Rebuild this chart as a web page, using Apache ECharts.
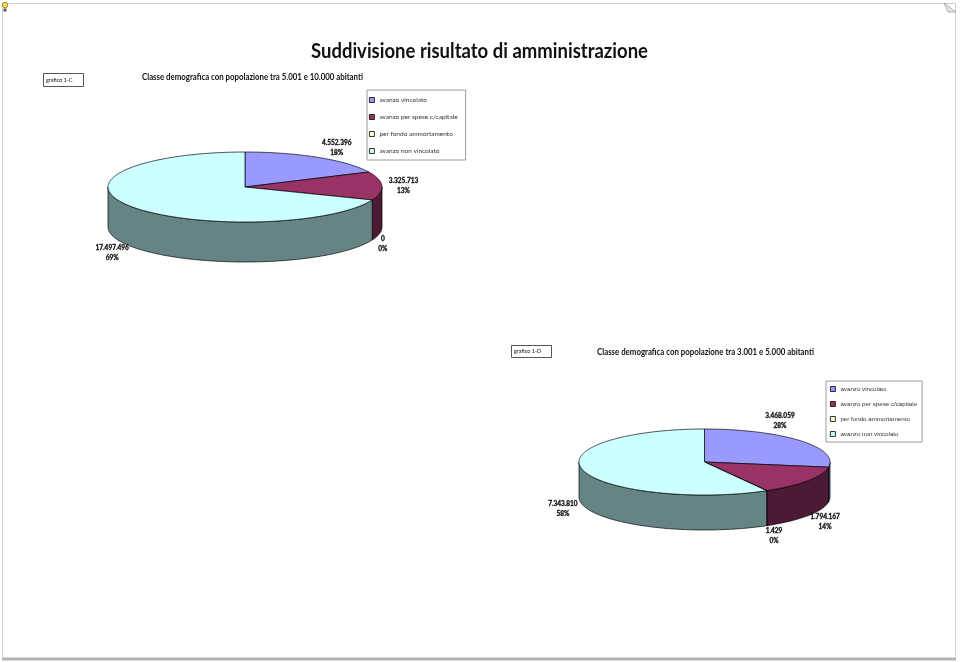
<!DOCTYPE html>
<html><head><meta charset="utf-8">
<script src="https://cdn.jsdelivr.net/npm/echarts@6/dist/echarts.min.js"></script>
<style>html,body{margin:0;padding:0;background:#fff}#c{width:960px;height:662px}</style>
</head><body><div id="c"></div>
<script>
// ---- data ----
const categories = ['avanzo vincolato', 'avanzo per spese c/capitale', 'per fondo ammortamento', 'avanzo non vincolato'];
const values1C = [4552396, 3325713, 0, 17497496];
const values1D = [3468059, 1794167, 1429, 7343810];
const mainTitle = 'Suddivisione risultato di amministrazione';
const subtitle1C = 'Classe demografica con popolazione tra 5.001 e 10.000 abitanti';
const subtitle1D = 'Classe demografica con popolazione tra 3.001 e 5.000 abitanti';
const tag1C = 'grafico 1-C';
const tag1D = 'grafico 1-D';

// ---- styles / layout ----
const topColors = ['#9999FF', '#993366', '#FFFFCC', '#CCFFFF'];
const sideColors = ['#4D4D80', '#4D1A33', '#808066', '#668484'];
const pie1 = {cx: 245, cy: 187, rx: 137, ry: 35, depth: 40, labelFont: 'bold 6.5px Lato', nudge: [[7, 0], [0, 0], [0, 0], [0, 0]]};
const pie2 = {cx: 704.5, cy: 462, rx: 125.5, ry: 33, depth: 35, labelFont: 'bold 6.5px Lato', nudge: [[-36, -12], [0, 0], [0, 0], [0, 0]]};

function fmt(v) { return String(v).replace(/\B(?=(\d{3})+(?!\d))/g, '.'); }
const mctx = document.createElement('canvas').getContext('2d');
function textW(t, font) { mctx.font = font; return mctx.measureText(t).width; }

function pie3d(values, L) {
  const total = values.reduce((a, b) => a + b, 0);
  const cum = [0];
  values.forEach(v => cum.push(cum[cum.length - 1] + v));
  return {
    type: 'custom', coordinateSystem: 'none', silent: true,
    data: values.map((v, i) => [i, v]),
    renderItem(params, api) {
      const i = api.value(0), v = api.value(1);
      const a0 = cum[i] / total * 2 * Math.PI, a1 = cum[i + 1] / total * 2 * Math.PI;
      const pt = (t, dy) => [L.cx + L.rx * Math.sin(t), L.cy - L.ry * Math.cos(t) + (dy || 0)];
      const children = [];
      if (v > 0) {
        const n = Math.max(2, Math.ceil((a1 - a0) / 0.01));
        const pts = [[L.cx, L.cy]];
        for (let k = 0; k <= n; k++) pts.push(pt(a0 + (a1 - a0) * k / n));
        children.push({type: 'polygon', z2: 10, shape: {points: pts},
          style: {fill: topColors[i], stroke: '#000', lineWidth: 0.7}});
        const s0 = Math.max(a0, Math.PI / 2), s1 = Math.min(a1, 1.5 * Math.PI);
        if (s1 > s0) {
          const m = Math.max(2, Math.ceil((s1 - s0) / 0.01));
          const up = [], dn = [];
          for (let k = 0; k <= m; k++) { const t = s0 + (s1 - s0) * k / m; up.push(pt(t)); dn.push(pt(t, L.depth)); }
          children.push({type: 'polygon', z2: 1, shape: {points: up.concat(dn.reverse())},
            style: {fill: sideColors[i], stroke: '#000', lineWidth: 0.7}});
        }
      }
      const mid = (a0 + a1) / 2, s = Math.sin(mid), c = Math.cos(mid);
      const l1 = fmt(v), l2 = Math.round(v / total * 100) + '%';
      const w = Math.max(textW(l1, L.labelFont), textW(l2, L.labelFont));
      const h = 20;
      const ax = L.cx + L.rx * 1.05 * s, ay = L.cy - L.ry * 1.05 * c + (c < 0 ? L.depth : 0);
      const nx = L.nudge[i];
      children.push({type: 'text', z2: 20, x: ax + w / 2 * s + nx[0], y: ay - h / 2 * c + nx[1],
        style: {text: l1 + '\n' + l2, font: L.labelFont, fill: '#111', stroke: '#111', lineWidth: 0.3,
          align: 'center', verticalAlign: 'middle', lineHeight: 10}});
      return {type: 'group', children};
    }
  };
}

function fitText(text, font, x, y, width, align) {
  const sx = width / textW(text, font);
  return {type: 'text', x, y, scaleX: sx, z: 10,
    style: {text, font, fill: '#111', align: align || 'left', verticalAlign: 'middle'}};
}

const legendSeries = categories.map((name, i) => ({
  type: 'custom', name, coordinateSystem: 'none', data: [], renderItem: () => null,
  itemStyle: {color: topColors[i]}
}));

const chart = echarts.init(document.getElementById('c'), null, {renderer: 'canvas'});
chart.setOption({
  animation: false,
  backgroundColor: '#fff',
  legend: [
    {data: categories, orient: 'vertical', left: 367, top: 90, icon: 'rect', itemWidth: 5, itemHeight: 5,
     itemGap: 9, padding: [6, 8, 5, 2], borderColor: '#9a9a9a', borderWidth: 1, selectedMode: false,
     itemStyle: {borderColor: '#000', borderWidth: 0.8},
     textStyle: {fontFamily: 'Lato', fontSize: 6.5, color: '#333', lineHeight: 8}},
    {data: categories, orient: 'vertical', left: 826, top: 381, icon: 'rect', itemWidth: 5, itemHeight: 5,
     itemGap: 7, padding: [4, 5, 4, 4], borderColor: '#9a9a9a', borderWidth: 1, selectedMode: false,
     itemStyle: {borderColor: '#000', borderWidth: 0.8},
     textStyle: {fontFamily: 'Liberation Sans', fontSize: 6.2, color: '#333', lineHeight: 8}}
  ],
  graphic: [
    {type: 'rect', shape: {x: 2.5, y: 3.5, width: 953, height: 655}, style: {fill: 'none', stroke: '#cfcfcf', lineWidth: 1}},
    {type: 'line', shape: {x1: 2, y1: 659, x2: 956, y2: 659}, style: {stroke: '#b3b3b3', lineWidth: 3}},
    {type: 'polygon', shape: {points: [[944, 3], [956, 12], [948, 12]]}, style: {fill: '#e6e6e6', stroke: '#a0a0a0', lineWidth: 0.8}},
    {type: 'circle', shape: {cx: 5, cy: 5, r: 2.8}, style: {fill: '#f2e24a', stroke: '#8a7a20', lineWidth: 0.8}},
    {type: 'rect', shape: {x: 3.5, y: 8.5, width: 3, height: 3}, style: {fill: '#555', stroke: null}},
    fitText(mainTitle, 'bold 20px Lato', 479.5, 52, 337, 'center'),
    fitText(subtitle1C, 'bold 9px Lato', 142, 77, 221),
    fitText(subtitle1D, 'bold 9px Lato', 597, 352, 217),
    {type: 'rect', shape: {x: 43.5, y: 73.5, width: 40, height: 13}, style: {fill: '#fff', stroke: '#555', lineWidth: 1}},
    {type: 'text', x: 46, y: 80, style: {text: tag1C, font: '5.5px Lato', fill: '#111', verticalAlign: 'middle'}},
    {type: 'rect', shape: {x: 511.5, y: 345.5, width: 40, height: 12}, style: {fill: '#fff', stroke: '#555', lineWidth: 1}},
    {type: 'text', x: 514, y: 351.5, style: {text: tag1D, font: '5.5px Lato', fill: '#111', verticalAlign: 'middle'}}
  ],
  series: [pie3d(values1C, pie1), pie3d(values1D, pie2)].concat(legendSeries)
});
</script></body></html>
